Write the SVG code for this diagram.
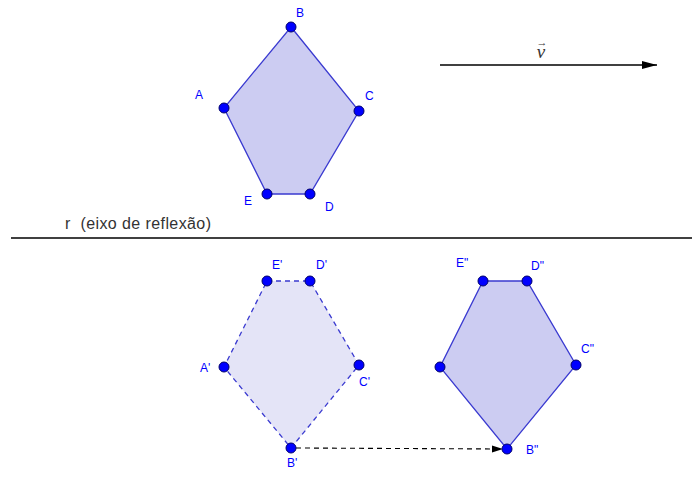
<svg xmlns="http://www.w3.org/2000/svg" width="692" height="480" viewBox="0 0 692 480">
<style>
.poly{fill:#ccccf2;stroke:#3a3ad0;stroke-width:1.3}
.polyd{fill:#e4e4f7;stroke:#3a3ad0;stroke-width:1.3;stroke-dasharray:5,4}
.pt{fill:#0000ff;stroke:#00006a;stroke-width:1}
.lbl{font-family:"Liberation Sans",Arial,sans-serif;font-size:12px;fill:#0000ff}
.txt{font-family:"Liberation Sans",Arial,sans-serif;font-size:16px;fill:#333;white-space:pre}
</style>
<defs>
<marker id="ah" markerWidth="16" markerHeight="10" refX="15" refY="5" orient="auto" markerUnits="userSpaceOnUse">
<path d="M0,1 L15,5 L0,9 Z" fill="#000"/>
</marker>
<marker id="ah2" markerWidth="12" markerHeight="8" refX="11" refY="4" orient="auto" markerUnits="userSpaceOnUse">
<path d="M0,0.5 L11,4 L0,7.5 Z" fill="#000"/>
</marker>
</defs>
<g id="connectors">
<line x1="440" y1="65" x2="657" y2="65" stroke="#000" stroke-width="1.3" marker-end="url(#ah)"/>
<line x1="11" y1="238" x2="692" y2="238" stroke="#000" stroke-width="1.3"/>
<line x1="296" y1="448" x2="503" y2="449" stroke="#000" stroke-width="1.1" stroke-dasharray="5,4" marker-end="url(#ah2)"/>
</g>
<g id="vector-label" font-family="'Liberation Serif','Times New Roman',serif" fill="#333">
<text x="541" y="58" font-style="italic" font-size="19" text-anchor="middle">v</text>
<text x="542" y="46" font-size="11" text-anchor="middle">→</text>
</g>
<text class="txt" x="65" y="229" xml:space="preserve" textLength="146">r  (eixo de reflexão)</text>
<g id="pentagon-ABCDE">
<polygon class="poly" points="291,27 359,111 310,194 267,194 224,108"/>
<circle class="pt" cx="291" cy="27" r="5"/>
<circle class="pt" cx="224" cy="108" r="5"/>
<circle class="pt" cx="359" cy="111" r="5"/>
<circle class="pt" cx="310" cy="194" r="5"/>
<circle class="pt" cx="267" cy="194" r="5"/>
<text class="lbl" x="296" y="17">B</text>
<text class="lbl" x="195" y="99">A</text>
<text class="lbl" x="365" y="100">C</text>
<text class="lbl" x="244" y="205">E</text>
<text class="lbl" x="325" y="211">D</text>
</g>
<g id="pentagon-prime">
<polygon class="polyd" points="267,281 310,281 359,365 291,448 224,367"/>
<circle class="pt" cx="267" cy="281" r="5"/>
<circle class="pt" cx="310" cy="281" r="5"/>
<circle class="pt" cx="224" cy="367" r="5"/>
<circle class="pt" cx="359" cy="365" r="5"/>
<circle class="pt" cx="291" cy="448" r="5"/>
<text class="lbl" x="272" y="269">E'</text>
<text class="lbl" x="316" y="269">D'</text>
<text class="lbl" x="200" y="372">A'</text>
<text class="lbl" x="359" y="386">C'</text>
<text class="lbl" x="287" y="467">B'</text>
</g>
<g id="pentagon-double-prime">
<polygon class="poly" points="483,281 527,281 576,365 507,449 440,367"/>
<circle class="pt" cx="483" cy="281" r="5"/>
<circle class="pt" cx="527" cy="281" r="5"/>
<circle class="pt" cx="440" cy="367" r="5"/>
<circle class="pt" cx="576" cy="365" r="5"/>
<circle class="pt" cx="507" cy="449" r="5"/>
<text class="lbl" x="456" y="267">E"</text>
<text class="lbl" x="531" y="270">D"</text>
<text class="lbl" x="581" y="353">C"</text>
<text class="lbl" x="526" y="454">B"</text>
</g>
</svg>
